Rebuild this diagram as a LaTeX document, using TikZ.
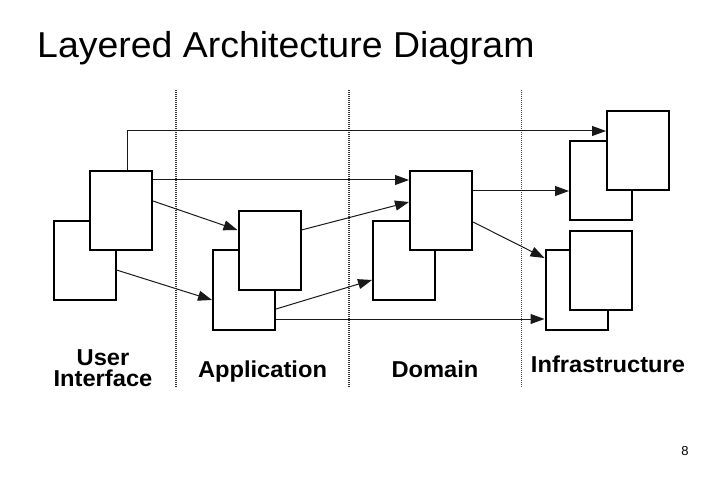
\documentclass[tikz,border=0pt]{standalone}
\usepackage{fontspec}
\setmainfont{Liberation Sans}
\usetikzlibrary{arrows.meta}
\begin{document}
\begin{tikzpicture}[x=1pt,y=-1pt,
  box/.style={draw=black,line width=2pt,fill=white,inner sep=0pt,
    minimum width=62pt,minimum height=79pt},
  conn/.style={draw=black!90,line width=1pt,-{Triangle[length=14pt 0,width=10pt 0]}},
  divider/.style={draw=black!80,line width=1.1pt,dash pattern=on 1pt off 1pt},
  lbl/.style={font=\fontsize{23}{23}\selectfont\bfseries,xscale=1.03,anchor=base,inner sep=0pt}]
\useasboundingbox (0,0) rectangle (728,486);
% title and page number
\node[anchor=base west,inner sep=0pt,font=\fontsize{36}{36}\selectfont,xscale=1.04] (title) at (37,57.5) {Layered Architecture Diagram};
\node[anchor=base,inner sep=0pt,font=\fontsize{13}{13}\selectfont] (page) at (685,455) {8};
% dividers
\coordinate (d1a) at (176,90); \coordinate (d1b) at (176,388);
\coordinate (d2a) at (349,90); \coordinate (d2b) at (349,388);
\coordinate (d3a) at (521,90); \coordinate (d3b) at (521,388);
\draw[divider] (d1a) -- (d1b);
\draw[divider] (d2a) -- (d2b);
\draw[divider,line width=0.7pt,draw=black!70] (d3a) -- (d3b);
% boxes (back first, then front)
\node[box] (ui1) at (84.5,260.5) {};
\node[box] (ui2) at (121,210.5) {};
\node[box] (app1) at (244,290) {};
\node[box] (app2) at (269.5,250.5) {};
\node[box] (dom1) at (404,260.5) {};
\node[box] (dom2) at (441,210.5) {};
\node[box] (inf1) at (601,181) {};
\node[box] (inf2) at (638,151) {};
\node[box] (inf3) at (576.5,290) {};
\node[box] (inf4) at (601,270.5) {};
% connectors
\coordinate (bend) at (127,131);
\draw[conn] (ui2.north -| 127,0) -- (bend) -- (inf2.west |- 0,131);
\draw[conn] (ui2.east |- 0,180) -- (dom2.west |- 0,180);
\draw[conn] (ui2.east |- 0,201) -- (app2.west |- 0,230);
\draw[conn] (ui1.east |- 0,270) -- (app1.west |- 0,300);
\draw[conn] (app2.east |- 0,230) -- (dom2.west |- 0,202);
\draw[conn] (app1.east |- 0,309) -- (dom1.west |- 0,280);
\draw[conn] (app1.east |- 0,319) -- (inf3.west |- 0,319);
\draw[conn] (dom2.east |- 0,191) -- (inf1.west |- 0,191);
\draw[conn] (dom2.east |- 0,222) -- (inf3.west |- 0,258);
% labels
\node[lbl] (lui1) at (103,365) {User};
\node[lbl] (lui2) at (103,386) {Interface};
\node[lbl] (lapp) at (262.5,377.5) {Application};
\node[lbl] (ldom) at (435,377.5) {Domain};
\node[lbl] (linf) at (608,372.5) {Infrastructure};
\end{tikzpicture}
\end{document}
